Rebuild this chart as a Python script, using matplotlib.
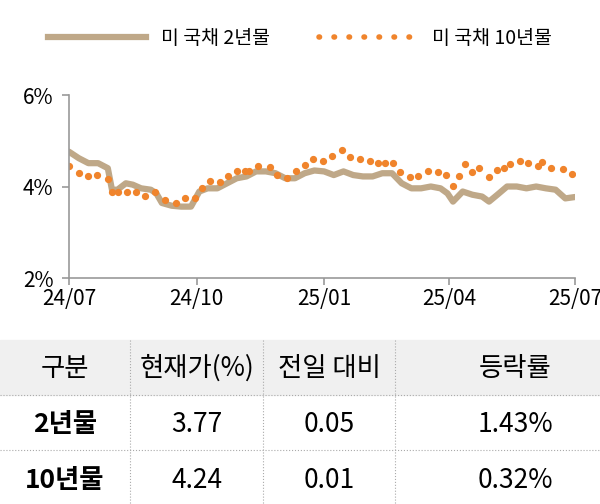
import matplotlib
matplotlib.use("Agg")
import matplotlib.pyplot as plt
from matplotlib.patches import Rectangle
from matplotlib.lines import Line2D

plt.rcParams["font.family"] = ["Noto Sans CJK KR", "Noto Sans CJK JP", "Noto Sans CJK SC",
                               "Noto Sans CJK TC", "DejaVu Sans"]

# day offsets from 2024-07-01
y2_days = [0, 7, 14, 21, 28, 31, 35, 41, 46, 52, 59, 63, 67, 74, 81, 88, 94, 100, 107, 114, 121, 128,
           135, 142, 149, 156, 163, 170, 177, 184, 191, 198, 205, 212, 219, 226, 233, 240, 247, 254,
           261, 268, 273, 277, 284, 291, 298, 303, 309, 316, 323, 330, 337, 344, 351, 358, 365]
y2_vals = [4.76, 4.62, 4.51, 4.51, 4.40, 3.93, 3.93, 4.07, 4.04, 3.96, 3.93, 3.85, 3.64, 3.58, 3.56,
           3.56, 3.89, 3.96, 3.96, 4.07, 4.18, 4.22, 4.33, 4.33, 4.29, 4.18, 4.18, 4.29, 4.35, 4.33,
           4.25, 4.33, 4.25, 4.22, 4.22, 4.29, 4.29, 4.07, 3.96, 3.96, 4.00, 3.96, 3.85, 3.67, 3.89,
           3.82, 3.78, 3.67, 3.82, 4.00, 4.00, 3.96, 4.00, 3.96, 3.93, 3.74, 3.77]
y10_days = [0, 7, 14, 20, 28, 31, 35, 42, 48, 55, 62, 69, 77, 84, 91, 96, 102, 109, 115, 121, 127, 130,
            136, 145, 150, 157, 164, 170, 176, 183, 190, 197, 203, 210, 217, 223, 228, 234, 239, 246,
            252, 259, 266, 272, 277, 281, 286, 291, 296, 303, 309, 314, 318, 325, 331, 338, 341, 348, 356, 363]
y10_vals = [4.45, 4.29, 4.24, 4.25, 4.17, 3.89, 3.89, 3.89, 3.87, 3.80, 3.89, 3.71, 3.64, 3.75, 3.75,
            3.96, 4.11, 4.09, 4.22, 4.33, 4.33, 4.33, 4.45, 4.42, 4.25, 4.18, 4.33, 4.47, 4.60, 4.55,
            4.67, 4.80, 4.64, 4.60, 4.56, 4.51, 4.51, 4.51, 4.31, 4.20, 4.24, 4.33, 4.31, 4.25, 4.01,
            4.22, 4.49, 4.31, 4.40, 4.20, 4.35, 4.40, 4.49, 4.56, 4.51, 4.45, 4.53, 4.40, 4.38, 4.28]
x_tick_days = [0, 92, 184, 274, 365]
x_tick_labels = ["24/07", "24/10", "25/01", "25/04", "25/07"]
y_ticks = [2, 4, 6]

series_names = ["미 국채 2년물", "미 국채 10년물"]
table_header = ["구분", "현재가(%)", "전일 대비", "등락률"]
table_rows = [["2년물", "3.77", "0.05", "1.43%"],
              ["10년물", "4.24", "0.01", "0.32%"]]

W, H = 600, 504
fig = plt.figure(figsize=(6, 5.04), dpi=100)
ax = fig.add_axes([69 / W, 1 - 278 / H, (575 - 69) / W, (278 - 95) / H])
ax.plot(y2_days, y2_vals, color="#bfa888", lw=4.5, solid_capstyle="round")
ax.plot(y10_days, y10_vals, ls="none", marker="o", ms=4.2, color="#f0842c")
ax.set_xlim(0, 365)
ax.set_ylim(2, 6)
ax.set_yticks(y_ticks)
ax.set_yticklabels([f"{v}%" for v in y_ticks])
ax.set_xticks(x_tick_days)
ax.set_xticklabels(x_tick_labels)
for s in ["top", "right"]:
    ax.spines[s].set_visible(False)
for s in ["left", "bottom"]:
    ax.spines[s].set_color("#999999")
    ax.spines[s].set_linewidth(1.2)
ax.tick_params(axis="both", colors="#999999", labelcolor="black", labelsize=15, length=5, width=1.2)
ax.tick_params(axis="x", pad=2)
ax.tick_params(axis="y", pad=6)

handles = [Line2D([], [], color="#bfa888", lw=4.5),
           Line2D([], [], color="#f0842c", ls=(0, (0.1, 2.6)), lw=4, dash_capstyle="round")]
fig.legend(handles, series_names, loc="center", bbox_to_anchor=(0.5, 1 - 38 / H), ncol=2,
           frameon=False, fontsize=14, handlelength=5, columnspacing=2.5)

# table
fig.patches.append(Rectangle((0, 1 - 395 / H), 1, 55 / H, transform=fig.transFigure,
                             color="#f0f0f0", zorder=0))
col_x = [65, 197, 329, 515]
row_y = [368, 425, 480]
for yb in [395, 450]:
    fig.add_artist(Line2D([0, 1], [1 - yb / H] * 2, transform=fig.transFigure,
                          color="#aaaaaa", ls=":", lw=0.8))
for xb in [130, 263, 395]:
    fig.add_artist(Line2D([xb / W] * 2, [1 - 340 / H, 0], transform=fig.transFigure,
                          color="#aaaaaa", ls=":", lw=0.8))
for i, t in enumerate(table_header):
    fig.text(col_x[i] / W, 1 - row_y[0] / H, t, ha="center", va="center", fontsize=19)
for r, row in enumerate(table_rows):
    for i, t in enumerate(row):
        fig.text(col_x[i] / W, 1 - row_y[r + 1] / H, t, ha="center", va="center", fontsize=19,
                 fontweight="bold" if i == 0 else "normal")

fig.savefig("out.png", dpi=100)
